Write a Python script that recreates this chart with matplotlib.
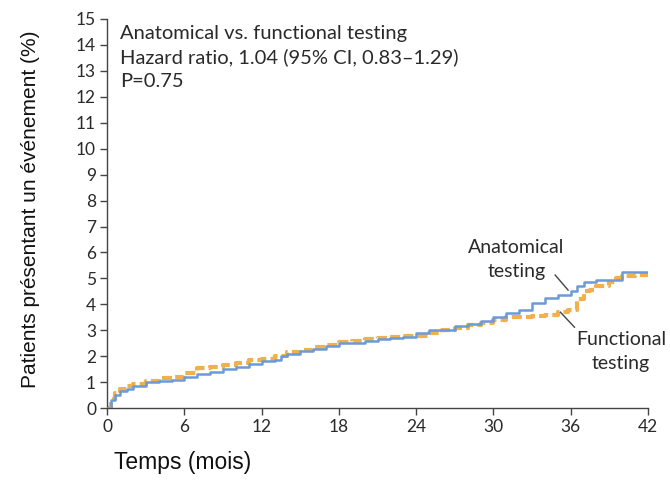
import matplotlib
matplotlib.use("Agg")
import matplotlib.pyplot as plt

# months / cumulative event rate (%)
anat_t = [0, 0.3, 0.6, 1, 1.5, 2, 3, 4, 5, 6, 7, 8, 9, 10, 11, 12, 13, 13.5, 14,
          15, 16, 17, 18, 19, 20, 21, 22, 23, 24, 25, 26, 27, 28, 29, 30, 31, 32,
          33, 34, 35, 36, 36.5, 37, 38, 39, 40, 41, 42]
anat_v = [0, 0.3, 0.5, 0.65, 0.75, 0.85, 1.0, 1.05, 1.1, 1.2, 1.3, 1.4, 1.5, 1.6,
          1.7, 1.8, 1.85, 2.0, 2.1, 2.2, 2.3, 2.4, 2.5, 2.5, 2.6, 2.65, 2.7, 2.75,
          2.9, 3.0, 3.0, 3.15, 3.25, 3.35, 3.5, 3.65, 3.8, 4.05, 4.25, 4.35, 4.5,
          4.7, 4.85, 4.95, 4.95, 5.25, 5.25, 5.25]

func_t = [0, 0.3, 0.6, 1, 1.5, 2, 3, 4, 5, 6, 7, 8, 9, 10, 11, 12, 13, 14, 15, 16,
          17, 18, 19, 20, 21, 22, 23, 24, 25, 26, 27, 28, 29, 30, 31, 32, 33, 34,
          35, 35.8, 36.5, 37, 37.5, 38, 39, 39.5, 40, 41, 42]
func_v = [0, 0.35, 0.6, 0.75, 0.85, 0.95, 1.05, 1.15, 1.2, 1.35, 1.55, 1.6, 1.65,
          1.75, 1.85, 1.9, 2.0, 2.15, 2.25, 2.35, 2.45, 2.55, 2.6, 2.65, 2.7, 2.75,
          2.8, 2.8, 2.9, 3.0, 3.1, 3.2, 3.3, 3.4, 3.5, 3.5, 3.55, 3.6, 3.7, 3.8,
          4.2, 4.5, 4.55, 4.7, 4.85, 5.0, 5.1, 5.15, 5.15]

x_ticks = [0, 6, 12, 18, 24, 30, 36, 42]
y_ticks = list(range(0, 16))

tick_font = ['Lato', 'DejaVu Sans']
note_font = ['Lato', 'DejaVu Sans']
label_font = ['Liberation Sans', 'DejaVu Sans']

blue = '#6a9ad9'
orange = '#f0b04c'
dark = '#444444'
txt = '#2a2a2a'

fig = plt.figure(figsize=(6.7, 4.99), dpi=100)
ax = fig.add_axes([0.16, 0.182, 0.807, 0.78])

ax.plot(anat_t, anat_v, drawstyle='steps-post', color=blue, lw=1.8, zorder=3)
ax.plot(func_t, func_v, drawstyle='steps-post', color=orange, lw=3,
        dashes=(2.4, 1.0), zorder=2)

ax.set_xlim(0, 42)
ax.set_ylim(0, 15)
ax.set_xticks(x_ticks)
ax.set_yticks(y_ticks)
for s in ['top', 'right']:
    ax.spines[s].set_visible(False)
for s in ['left', 'bottom']:
    ax.spines[s].set_color(dark)
    ax.spines[s].set_linewidth(1.0)
ax.tick_params(direction='out', length=5, width=1, color=dark, pad=3)
for lab in ax.get_xticklabels() + ax.get_yticklabels():
    lab.set_family(tick_font)
    lab.set_fontsize(12.5)
    lab.set_color(txt)

ax.text(1.0, 14.78, 'Anatomical vs. functional testing\nHazard ratio, 1.04 (95% CI, 0.83\u20131.29)\nP=0.75',
        family=note_font, fontsize=14.5, va='top', ha='left', color=txt,
        linespacing=1.45)

ax.text(31.8, 5.73, 'Anatomical\ntesting', family=note_font, fontsize=14,
        ha='center', va='center', color=txt, linespacing=1.45)
ax.plot([34.8, 35.8], [5.13, 4.55], color=dark, lw=1)

ax.text(39.9, 2.18, 'Functional\ntesting', family=note_font, fontsize=14,
        ha='center', va='center', color=txt, linespacing=1.45)
ax.plot([35.2, 36.3], [3.70, 3.12], color=dark, lw=1)

fig.text(0.273, 0.074, 'Temps (mois)', family=label_font, fontsize=16.5,
         ha='center', va='center', color='#111111')
fig.text(0.045, 0.58, 'Patients pr\u00e9sentant un \u00e9v\u00e9nement (%)',
         family=label_font, fontsize=15, rotation=90, ha='center', va='center',
         color='#111111')

fig.savefig('out.png', dpi=100)
